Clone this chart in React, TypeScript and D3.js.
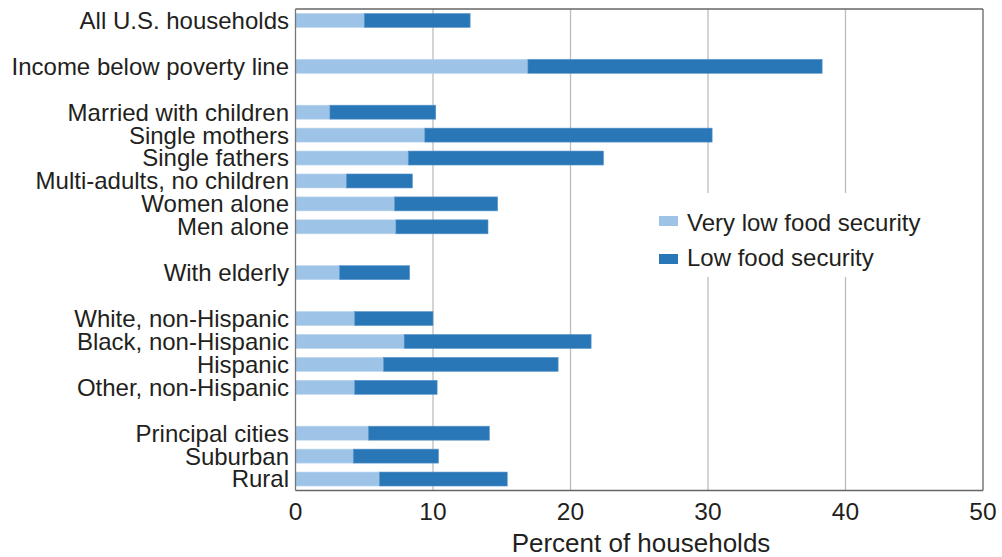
import React from "react";
import * as d3 from "d3";

const categories = [
  "All U.S. households", "", "Income below poverty line", "",
  "Married with children", "Single mothers", "Single fathers", "Multi-adults, no children",
  "Women alone", "Men alone", "", "With elderly", "",
  "White, non-Hispanic", "Black, non-Hispanic", "Hispanic", "Other, non-Hispanic", "",
  "Principal cities", "Suburban", "Rural",
];
const veryLow = [5.0, null, 16.9, null, 2.5, 9.4, 8.2, 3.7, 7.2, 7.3, null, 3.2, null, 4.3, 7.9, 6.4, 4.3, null, 5.3, 4.2, 6.1];
const low = [7.7, null, 21.4, null, 7.7, 20.9, 14.2, 4.8, 7.5, 6.7, null, 5.1, null, 5.7, 13.6, 12.7, 6.0, null, 8.8, 6.2, 9.3];
const seriesNames = ["Very low food security", "Low food security"];
const xTicks = [0, 10, 20, 30, 40, 50];
const xTitle = "Percent of households";

const W = 1002, H = 557;
const left = 295.5, right = 983, top = 9, bottom = 490.5;
const colors = ["#9dc3e6", "#2a77b8"];
const font = "'Liberation Sans', Arial, Helvetica, sans-serif";
const textColor = "#231f20";

export default function App() {
  const x = d3.scaleLinear().domain([0, 50]).range([left, right]);
  const slots = categories.map((_, i) => String(i));
  const y = d3.scaleBand().domain(slots).range([top, bottom]).paddingInner(0.39).paddingOuter(0.195);
  const bw = y.bandwidth();
  return (
    <svg width={W} height={H} style={{ position: "absolute", left: 0, top: 0, background: "#fff" }} fontFamily={font}>
      {xTicks.slice(1, -1).map((t) => (
        <line key={t} x1={x(t)} x2={x(t)} y1={top} y2={bottom} stroke="#bdbdbd" strokeWidth={1.3} />
      ))}
      {categories.map((c, i) => {
        if (veryLow[i] == null) return null;
        const y0 = y(String(i))!;
        const v = veryLow[i] as number;
        const l = low[i] as number;
        return (
          <g key={i}>
            <rect x={x(0)} y={y0} width={x(v) - x(0)} height={bw} fill={colors[0]} stroke="#b9d5ee" strokeWidth={0.6} />
            <rect x={x(v)} y={y0} width={x(v + l) - x(v)} height={bw} fill={colors[1]} stroke="#5b97cb" strokeWidth={0.6} />
            <text x={289} y={y0 + bw / 2} dy="0.35em" textAnchor="end" fontSize={24} fill={textColor}>{c}</text>
          </g>
        );
      })}
      {/* frame */}
      <line x1={left} x2={right} y1={top} y2={top} stroke="#666" strokeWidth={1.3} />
      <line x1={right} x2={right} y1={top} y2={bottom} stroke="#666" strokeWidth={1.3} />
      <line x1={left} x2={left} y1={top} y2={bottom} stroke="#777" strokeWidth={1.3} />
      <line x1={left} x2={right} y1={bottom} y2={bottom} stroke="#666" strokeWidth={1.3} />
      {xTicks.map((t) => (
        <text key={t} x={x(t)} y={511} dy="0.35em" textAnchor="middle" fontSize={24.5} fill={textColor}>{t}</text>
      ))}
      <text x={(510 + 772) / 2} y={543} dy="0.35em" textAnchor="middle" fontSize={26} fill={textColor}>{xTitle}</text>
      {/* legend */}
      <rect x={650} y={193} width={285} height={84} fill="#fff" />
      {seriesNames.map((s, i) => (
        <g key={s}>
          <rect x={659} y={216 + i * 38} width={19} height={10} fill={colors[i]} />
          <text x={687} y={222.5 + i * 35} dy="0.35em" fontSize={24} fill={textColor}>{s}</text>
        </g>
      ))}
    </svg>
  );
}
